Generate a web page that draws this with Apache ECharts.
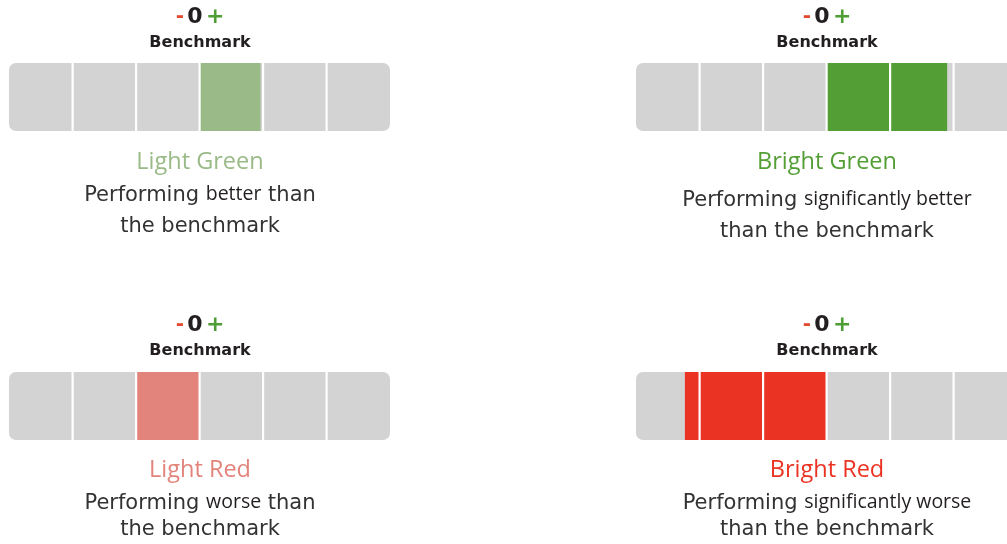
<!DOCTYPE html>
<html><head><meta charset="utf-8">
<script src="https://cdn.jsdelivr.net/npm/echarts@6/dist/echarts.min.js"></script>
<style>html,body{margin:0;padding:0;background:#fff}#c{width:1007px;height:544px}</style>
</head><body><div id="c"></div>
<script>
// ---- data ----
const cellCount = 6;
const panelTitles = ['Light Green', 'Bright Green', 'Light Red', 'Bright Red'];
const bandStart = [3, 3, 2, 0.77];
const bandEnd = [3.96, 4.9, 3, 3];
const descLine1Plain = ['Performing ', 'Performing ', 'Performing ', 'Performing '];
const descLine1Strong = ['better', 'significantly better', 'worse', 'significantly worse'];
const descLine1Tail = [' than', '', ' than', ''];
const descLine2 = ['the benchmark', 'than the benchmark', 'the benchmark', 'than the benchmark'];
const benchmarkLabel = 'Benchmark';

// ---- styles / layout ----
const bandColors = ['#9aba87', '#539f36', '#e2847b', '#eb3323'];
const gray = '#d3d3d3';
const grids = [
  {left: 9, top: 63, width: 381, height: 68},
  {left: 636, top: 63, width: 381, height: 68},
  {left: 9, top: 372, width: 381, height: 68},
  {left: 636, top: 372, width: 381, height: 68}
];
const centers = [200, 827, 200, 827];
const textY = [
  {sign: 17, bench: 43, title: 162, l1: 196, l2: 227},
  {sign: 17, bench: 43, title: 162, l1: 201, l2: 232},
  {sign: 325, bench: 351, title: 470, l1: 504, l2: 530},
  {sign: 325, bench: 351, title: 470, l1: 504, l2: 530}
];
const bodyFont = 'DejaVu Sans';
const strongFont = 'Open Sans';
const titleFont = 'Open Sans';

const chart = echarts.init(document.getElementById('c'), null, {renderer: 'canvas'});

const series = panelTitles.map((t, i) => ({
  type: 'custom',
  xAxisIndex: i, yAxisIndex: i,
  clip: false,
  data: [[bandStart[i], bandEnd[i]]],
  renderItem: function (params, api) {
    const s = api.value(0), e = api.value(1);
    const p0 = api.coord([0, 1]), p6 = api.coord([cellCount, 0]);
    const a = api.coord([s, 1]), b = api.coord([e, 0]);
    const children = [
      {type: 'rect', shape: {x: p0[0], y: p0[1], width: p6[0] - p0[0], height: p6[1] - p0[1], r: 7}, style: {fill: gray}},
      {type: 'rect', shape: {x: a[0], y: a[1], width: b[0] - a[0], height: b[1] - a[1]}, style: {fill: bandColors[i]}}
    ];
    for (let k = 1; k < cellCount; k++) {
      const d = api.coord([k, 1]);
      children.push({type: 'rect', shape: {x: d[0] - 1, y: p0[1], width: 2.2, height: p6[1] - p0[1]}, style: {fill: '#ffffff'}});
    }
    return {type: 'group', children: children};
  }
}));

const graphics = [];
panelTitles.forEach((t, i) => {
  const cx = centers[i], ty = textY[i];
  graphics.push({
    type: 'text', x: cx, y: ty.sign,
    style: {
      text: '{m|-} {z|0} {p|+}', align: 'center', verticalAlign: 'middle',
      rich: {
        m: {fontFamily: 'DejaVu Sans', fontWeight: 'bold', fontSize: 20, fill: '#e34a2f'},
        z: {fontFamily: 'DejaVu Sans', fontWeight: 'bold', fontSize: 22, fill: '#231f20'},
        p: {fontFamily: 'DejaVu Sans', fontWeight: 'bold', fontSize: 22, fill: '#4f9d35'}
      }
    }
  });
  graphics.push({
    type: 'text', x: cx, y: ty.bench,
    style: {text: benchmarkLabel, align: 'center', verticalAlign: 'middle', fontFamily: 'DejaVu Sans', fontWeight: 'bold', fontSize: 16, fill: '#231f20'}
  });
  graphics.push({
    type: 'text', x: cx, y: ty.title,
    style: {text: t, align: 'center', verticalAlign: 'middle', fontFamily: titleFont, fontSize: 23.5, fill: bandColors[i]}
  });
  graphics.push({
    type: 'text', x: cx, y: ty.l1,
    style: {
      text: '{a|' + descLine1Plain[i] + '}{b|' + descLine1Strong[i] + '}{a|' + descLine1Tail[i] + '}',
      align: 'center', verticalAlign: 'middle',
      rich: {
        a: {fontFamily: bodyFont, fontSize: 21, fill: '#333333', lineHeight: 26, verticalAlign: 'middle'},
        b: {fontFamily: strongFont, fontSize: 19.5, fill: '#231f20', lineHeight: 26, verticalAlign: 'middle', padding: [0, 0, 4, 0]}
      }
    }
  });
  graphics.push({
    type: 'text', x: cx, y: ty.l2,
    style: {text: descLine2[i], align: 'center', verticalAlign: 'middle', fontFamily: bodyFont, fontSize: 21, fill: '#333333'}
  });
});

chart.setOption({
  animation: false,
  backgroundColor: '#ffffff',
  grid: grids.map(g => Object.assign({containLabel: false, outerBoundsMode: 'none'}, g)),
  xAxis: grids.map((g, i) => ({type: 'value', gridIndex: i, min: 0, max: cellCount, show: false})),
  yAxis: grids.map((g, i) => ({type: 'value', gridIndex: i, min: 0, max: 1, show: false})),
  series: series,
  graphic: graphics
});
</script>
</body></html>
